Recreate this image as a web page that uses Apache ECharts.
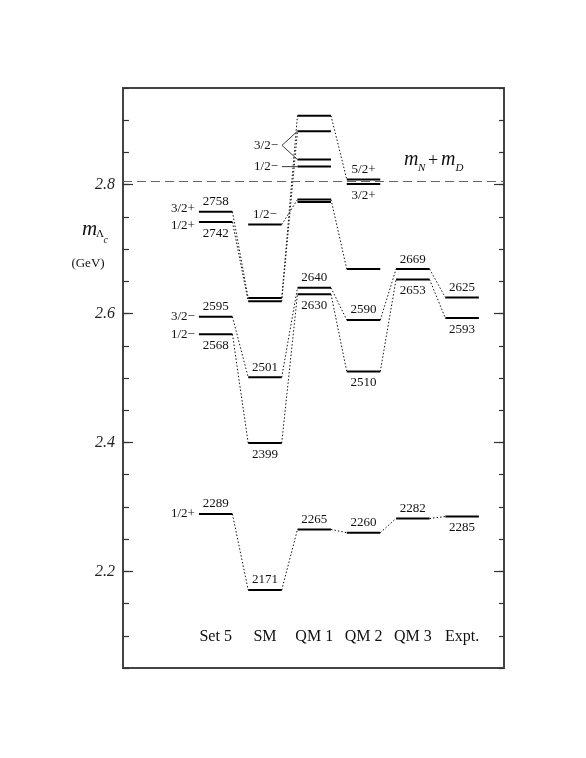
<!DOCTYPE html>
<html lang="en">
<head>
    <meta charset="UTF-8">
    <title>Lambda_c levels</title>
    <style>
        html,body{
            width: 100%;
            height: 100%;
            margin: 0;
            padding: 0;
            background: #fff;
        }
    </style>
</head>
<body>
<div id="main" style="width: 586px;height:758px;"></div>

<script src="https://cdn.jsdelivr.net/npm/echarts@6/dist/echarts.min.js"></script>
<script>
    // columns of the level scheme
    var columns = ['Set 5', 'SM', 'QM 1', 'QM 2', 'QM 3', 'Expt.'];

    // level masses in MeV, one array per column
    var set5 = [2289, 2568, 2595, 2742, 2758];
    var sm   = [2171, 2399, 2501, 2619, 2624, 2738];
    var qm1  = [2265, 2630, 2640, 2773, 2777, 2828, 2839, 2883, 2907];
    var qm2  = [2260, 2510, 2590, 2669, 2801, 2808];
    var qm3  = [2282, 2653, 2669];
    var expt = [2285, 2593, 2625];
    var levels = [set5, sm, qm1, qm2, qm3, expt];

    // printed numbers: [column, mass]
    var numbersAbove = [[0,2289],[0,2595],[0,2758],[1,2171],[1,2501],[2,2265],[2,2640],
                        [3,2260],[3,2590],[4,2282],[4,2669],[5,2625]];
    var numbersBelow = [[0,2568],[0,2742],[1,2399],[2,2630],[3,2510],[4,2653],[5,2285],[5,2593]];

    // J^P labels
    var spinLeft  = [[0,2289,'1/2+'],[0,2568,'1/2−'],[0,2595,'3/2−'],[0,2742,'1/2+'],[0,2758,'3/2+']];
    var spinAbove = [[1,2738,'1/2−'],[3,2808,'5/2+']];
    var spinBelow = [[3,2801,'3/2+']];
    // QM 1 states labelled with pointer lines
    var pointerLabels = [['3/2−', [2883, 2839]], ['1/2−', [2828]]];

    // dotted correlation lines between columns
    var links = [
        [0,2289,1,2171],[1,2171,2,2265],[2,2265,3,2260],[3,2260,4,2282],[4,2282,5,2285],
        [0,2568,1,2399],[0,2595,1,2501],[1,2399,2,2630],[1,2501,2,2640],
        [2,2640,3,2590],[2,2630,3,2510],[3,2590,4,2669],[3,2510,4,2653],
        [4,2669,5,2625],[4,2653,5,2593],
        [0,2758,1,2624],[0,2742,1,2619],[1,2624,2,2907],[1,2619,2,2883],[1,2738,2,2777],
        [2,2907,3,2808],[2,2777,3,2669]
    ];

    var threshold = 2806;   // m_N + m_D
    var yTicks = [2050,2100,2150,2200,2250,2300,2350,2400,2450,2500,2550,2600,2650,2700,2750,2800,2850,2900,2950];
    var yMajor = [2200, 2400, 2600, 2800];

    var HALF = 0.34;
    var SERIF = '"Liberation Serif", "DejaVu Serif", serif';

    var myChart = echarts.init(document.getElementById('main'));

    var levelData = [];
    levels.forEach(function (arr, c) {
        arr.forEach(function (m) { levelData.push([c, m]); });
    });

    // text items
    var texts = [];
    numbersAbove.forEach(function (d) { texts.push({c: d[0], m: d[1], t: String(d[1]), pos: 'above'}); });
    numbersBelow.forEach(function (d) { texts.push({c: d[0], m: d[1], t: String(d[1]), pos: 'below'}); });
    spinAbove.forEach(function (d) { texts.push({c: d[0], m: d[1], t: d[2], pos: 'above'}); });
    spinBelow.forEach(function (d) { texts.push({c: d[0], m: d[1], t: d[2], pos: 'below'}); });
    spinLeft.forEach(function (d) {
        // spread labels of close-lying levels
        var dy = 0;
        spinLeft.forEach(function (o) {
            if (o !== d && o[0] === d[0] && Math.abs(o[1] - d[1]) < 20) dy = o[1] > d[1] ? 3.5 : -3;
        });
        texts.push({c: d[0], m: d[1], t: d[2], pos: 'left', dy: dy});
    });
    columns.forEach(function (name, c) {
        texts.push({c: c, m: 2050, t: name, pos: 'column'});
    });

    function textEl(x, y, txt, font, align) {
        return {
            type: 'text',
            x: x, y: y,
            style: {text: txt, font: font, fill: '#111', align: align || 'center', verticalAlign: 'middle'}
        };
    }

    function yAx(side, values, len, labels) {
        return {
            type: 'value', min: 2050, max: 2950, position: side,
            axisLine: {show: false, onZero: false}, splitLine: {show: false},
            axisTick: {inside: true, length: len, customValues: values, lineStyle: {color: '#333', width: 1.2}},
            axisLabel: labels ? {customValues: values, margin: 8, fontFamily: SERIF, fontStyle: 'italic',
                                 fontSize: 16, color: '#222',
                                 formatter: function (v) { return (v / 1000).toFixed(1); }}
                              : {show: false}
        };
    }

    myChart.setOption({
        animation: false,
        grid: {left: 123, top: 88, right: 82, bottom: 90, show: true,
               borderColor: '#444', borderWidth: 2, backgroundColor: 'transparent'},
        xAxis: {type: 'value', min: -1.88, max: 5.85, show: false},
        yAxis: [
            yAx('left', yTicks, 6, false),
            yAx('left', yMajor, 10, true),
            yAx('right', yTicks, 5, false),
            yAx('right', yMajor, 10, false)
        ],
        graphic: [
            textEl(82, 229, 'm', 'italic 21px ' + SERIF, 'left'),
            textEl(96, 234, 'Λ', '11px ' + SERIF, 'left'),
            textEl(103.5, 240, 'c', 'italic 10px ' + SERIF, 'left'),
            textEl(88, 264, '(GeV)', '13px ' + SERIF),
            textEl(404, 160, 'm', 'italic 20px ' + SERIF, 'left'),
            textEl(418, 168, 'N', 'italic 11px ' + SERIF, 'left'),
            textEl(433, 161, '+', '18px ' + SERIF),
            textEl(441, 160, 'm', 'italic 20px ' + SERIF, 'left'),
            textEl(455.5, 168, 'D', 'italic 11px ' + SERIF, 'left')
        ],
        series: [
            {
                // dotted correlation lines
                type: 'custom',
                data: links,
                renderItem: function (params, api) {
                    var a = api.coord([api.value(0) + HALF, api.value(1)]);
                    var b = api.coord([api.value(2) - HALF, api.value(3)]);
                    return {type: 'line', shape: {x1: a[0], y1: a[1], x2: b[0], y2: b[1]},
                            style: {stroke: '#111', lineWidth: 1, lineDash: [1.5, 2]}};
                },
                markLine: {
                    silent: true, symbol: 'none', label: {show: false},
                    lineStyle: {color: '#666', type: [9, 5], width: 1.2},
                    data: [{yAxis: threshold}]
                }
            },
            {
                // levels
                type: 'custom',
                data: levelData,
                renderItem: function (params, api) {
                    var a = api.coord([api.value(0) - HALF, api.value(1)]);
                    var b = api.coord([api.value(0) + HALF, api.value(1)]);
                    return {type: 'line', shape: {x1: a[0], y1: a[1], x2: b[0], y2: b[1]},
                            style: {stroke: '#000', lineWidth: 2}};
                }
            },
            {
                // pointer labels for QM 1
                type: 'custom',
                data: pointerLabels.map(function (p, i) { return [i]; }),
                renderItem: function (params, api) {
                    var p = pointerLabels[api.value(0)];
                    var ms = p[1];
                    var mid = ms.reduce(function (s, v) { return s + v; }, 0) / ms.length;
                    var base = api.coord([2 - HALF, mid]);
                    var start = [base[0] - 15.5, base[1]];
                    var children = [textEl(start[0] - 4, base[1], p[0], '13px ' + SERIF, 'right')];
                    ms.forEach(function (m) {
                        var q = api.coord([2 - HALF, m]);
                        children.push({type: 'line', shape: {x1: start[0], y1: start[1], x2: q[0], y2: q[1]},
                                       style: {stroke: '#222', lineWidth: 0.9}});
                    });
                    return {type: 'group', children: children};
                }
            },
            {
                // numbers, spin labels and column names
                type: 'custom',
                data: texts.map(function (t, i) { return [t.c, t.m, i]; }),
                renderItem: function (params, api) {
                    var t = texts[api.value(2)];
                    var p = api.coord([t.c, t.m]);
                    if (t.pos === 'above') return textEl(p[0], p[1] - 10, t.t, '13px ' + SERIF);
                    if (t.pos === 'below') return textEl(p[0], p[1] + 11.5, t.t, '13px ' + SERIF);
                    if (t.pos === 'left') {
                        var l = api.coord([t.c - HALF, t.m]);
                        return textEl(l[0] - 4, l[1] + (t.dy || 0), t.t, '13px ' + SERIF, 'right');
                    }
                    return textEl(p[0], p[1] - 31, t.t, '16px ' + SERIF);
                }
            }
        ]
    });
</script>
</body>
</html>
